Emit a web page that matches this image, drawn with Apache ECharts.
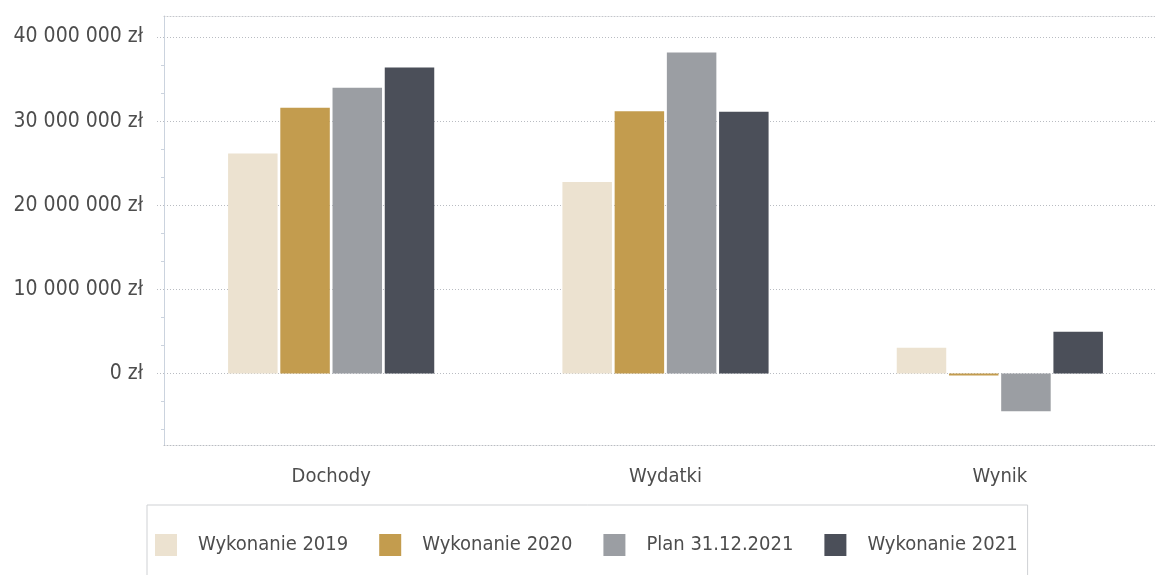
<!DOCTYPE html>
<html>
<head>
<meta charset="utf-8">
<script src="https://cdn.jsdelivr.net/npm/echarts@6/dist/echarts.min.js"></script>
<style>
  html, body { margin: 0; padding: 0; background: #ffffff; }
  #chart { width: 1155px; height: 575px; }
</style>
</head>
<body>
<div id="chart"></div>
<script>
// Budget summary: revenue, expenditure and result per year (PLN)
const categories = ['Dochody', 'Wydatki', 'Wynik'];
const seriesNames = ['Wykonanie 2019', 'Wykonanie 2020', 'Plan 31.12.2021', 'Wykonanie 2021'];
const wykonanie2019 = [26160000, 22780000, 3050000];
const wykonanie2020 = [31590000, 31190000, -250000];
const plan2021 = [33970000, 38170000, -4480000];
const wykonanie2021 = [36380000, 31110000, 4950000];
const yTickValues = [0, 10000000, 20000000, 30000000, 40000000];

const seriesColors = ['#ece2d0', '#c39c4e', '#9b9ea3', '#4b4f59'];
const seriesValues = [wykonanie2019, wykonanie2020, plan2021, wykonanie2021];

const yMin = -8500000;
const yMax = 42500000;

// minor ticks: three segments between each pair of major ticks
const minorTicks = [];
const step = (yTickValues[1] - yTickValues[0]) / 3;
for (let v = yTickValues[0] - 2 * step; v <= yMax; v += step) {
  const isMajor = yTickValues.some(t => Math.abs(t - v) < 1);
  if (!isMajor && v >= yMin) minorTicks.push(v);
}

function formatPln(v) {
  const s = Math.round(v).toString().replace(/\B(?=(\d{3})+(?!\d))/g, ' ');
  return s + ' zł';
}

const font = '"DejaVu Sans Condensed", "DejaVu Sans", sans-serif';
const textColor = '#4d4d4d';
const gridDotted = { color: '#b9bcc2', width: 1, type: [1, 2] };

const chart = echarts.init(document.getElementById('chart'), null, { renderer: 'canvas' });

chart.setOption({
  animation: false,
  backgroundColor: '#ffffff',
  textStyle: { fontFamily: font },
  grid: { left: 164, top: 16, right: -12, bottom: 130, containLabel: false, outerBoundsMode: 'none' },
  legend: {
    left: 147,
    top: 505,
    padding: [29, 10, 40, 8],
    borderColor: '#cfd1d4',
    borderWidth: 1,
    itemWidth: 22,
    itemHeight: 22,
    itemGap: 31,
    icon: 'rect',
    textStyle: { fontFamily: font, fontSize: 20, color: textColor, padding: [0, 0, 0, 16] },
    data: seriesNames
  },
  xAxis: [
    {
      type: 'category',
      data: categories,
      position: 'bottom',
      axisLine: { show: true, onZero: false, lineStyle: gridDotted },
      axisTick: { show: false },
      axisLabel: { fontFamily: font, fontSize: 20, color: textColor, margin: 22 },
      splitLine: { show: false }
    },
    {
      type: 'category',
      data: categories,
      position: 'top',
      axisLine: { show: true, onZero: false, lineStyle: { color: '#c4c6cb', width: 1, type: [1, 2] } },
      axisTick: { show: false },
      axisLabel: { show: false },
      splitLine: { show: false }
    }
  ],
  yAxis: [
    {
      type: 'value',
      min: yMin,
      max: yMax,
      axisLine: { show: true, lineStyle: { color: '#cbd3de', width: 1 } },
      axisTick: { show: true, length: 8, customValues: yTickValues, lineStyle: gridDotted },
      axisLabel: {
        customValues: yTickValues,
        formatter: formatPln,
        fontFamily: font,
        fontSize: 21,
        color: textColor,
        margin: 21
      },
      splitLine: { show: true, lineStyle: gridDotted }
    },
    {
      type: 'value',
      min: yMin,
      max: yMax,
      position: 'left',
      axisLine: { show: false },
      axisTick: { show: true, length: 3, customValues: minorTicks, lineStyle: { color: '#cbd3de', width: 1 } },
      axisLabel: { show: false },
      splitLine: { show: false }
    }
  ],
  series: seriesNames.map((name, i) => ({
    name: name,
    type: 'bar',
    xAxisIndex: 0,
    yAxisIndex: 0,
    data: seriesValues[i],
    barWidth: 49.5,
    barGap: '5.5%',
    itemStyle: { color: seriesColors[i] }
  }))
});
</script>
</body>
</html>
